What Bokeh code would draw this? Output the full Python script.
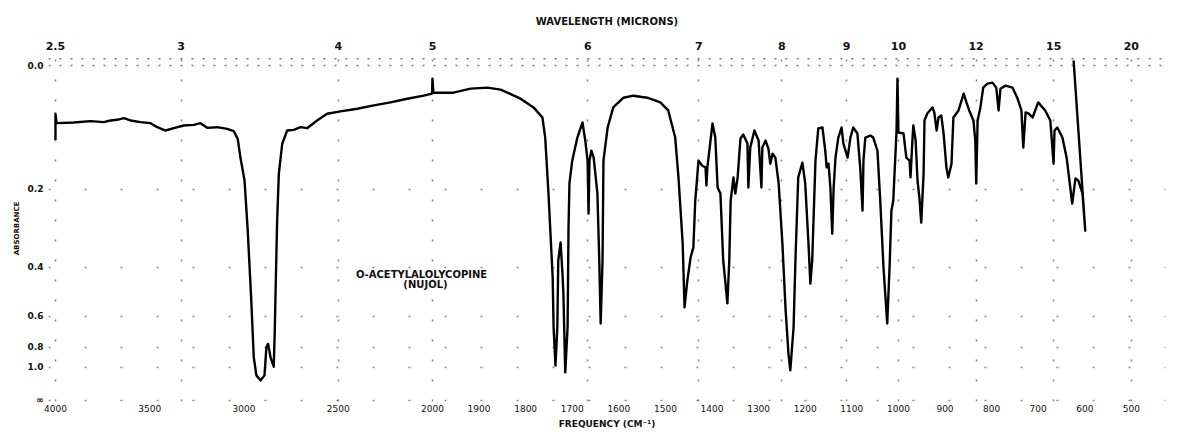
import numpy as np
from bokeh.plotting import figure
from bokeh.models import Range1d, LinearAxis, FixedTicker, Span, Label, Grid
from bokeh.embed import file_html
from bokeh.resources import INLINE

# ---------------- data ----------------
# IR trace of O-acetylalolycopine (Nujol mull): wavenumber (cm-1) vs transmittance (%)
# (includes the recorder pen marks at the start, at 2000 / 1000 cm-1 and the pen return at the end)
wavenumber = [
    4000, 4000, 3995, 3991, 3903, 3814, 3744, 3708, 3673, 3638, 3602, 3549, 3496, 3460,
    3416, 3372, 3319, 3266, 3231, 3195, 3142, 3089, 3054, 3033, 3019, 2997, 2980, 2962,
    2948, 2934, 2912, 2891, 2881, 2872, 2859, 2842, 2837, 2831, 2824, 2815, 2797, 2771,
    2736, 2700, 2665, 2612, 2559, 2488, 2399, 2311, 2223, 2134, 2046, 2002, 2000, 1998,
    1955, 1918, 1882, 1854, 1839, 1811, 1783, 1764, 1758, 1751, 1742, 1740, 1736, 1732,
    1730, 1725, 1721, 1719, 1715, 1710, 1708, 1706, 1700, 1689, 1678, 1672, 1667, 1665,
    1663, 1659, 1654, 1646, 1642, 1639, 1635, 1633, 1624, 1612, 1590, 1569, 1539, 1511,
    1494, 1479, 1472, 1463, 1459, 1453, 1446, 1440, 1436, 1429, 1421, 1414, 1412, 1410,
    1399, 1393, 1388, 1382, 1376, 1367, 1363, 1360, 1354, 1350, 1345, 1339, 1333, 1324,
    1322, 1318, 1309, 1300, 1294, 1292, 1285, 1279, 1275, 1270, 1264, 1257, 1249, 1242,
    1236, 1232, 1225, 1221, 1215, 1206, 1200, 1193, 1189, 1185, 1178, 1172, 1163, 1157,
    1154, 1150, 1146, 1142, 1139, 1135, 1129, 1122, 1118, 1109, 1103, 1097, 1088, 1082,
    1077, 1075, 1071, 1060, 1054, 1045, 1039, 1032, 1024, 1019, 1015, 1011, 1004, 1002,
    1000, 989, 983, 976, 974, 970, 968, 963, 959, 955, 951, 946, 944, 938,
    927, 923, 918, 914, 908, 903, 897, 893, 886, 882, 871, 860, 854, 848,
    839, 835, 833, 830, 824, 818, 809, 798, 790, 785, 781, 770, 755, 745,
    736, 732, 727, 721, 712, 700, 685, 674, 667, 665, 659, 648, 639, 633,
    627, 620, 614, 605, 599, 624,
]
transmittance = [
    77.8, 85.6, 83.0, 82.8, 83.0, 83.4, 83.1, 83.6, 83.8, 84.3, 83.6, 83.1, 82.8, 81.6,
    80.6, 81.3, 82.1, 82.3, 82.8, 81.4, 81.6, 81.1, 80.4, 78.1, 72.6, 65.7, 50.7, 30.8,
    12.9, 7.5, 6.0, 7.5, 15.9, 16.9, 12.9, 10.1, 19.9, 35.8, 53.7, 67.7, 76.6, 80.6,
    80.8, 81.6, 81.3, 83.6, 85.6, 86.3, 87.1, 88.1, 89.0, 90.1, 91.0, 91.6, 96.1, 91.9,
    91.9, 93.1, 93.4, 92.8, 91.9, 90.1, 87.5, 84.5, 78.5, 61.8, 36.7, 21.8, 10.4, 21.8,
    41.8, 47.2, 37.9, 31.9, 8.4, 21.8, 51.6, 64.8, 71.6, 78.5, 83.0, 77.6, 71.6, 55.8,
    71.6, 74.6, 72.5, 61.8, 41.8, 23.0, 41.8, 71.6, 81.5, 87.5, 90.4, 91.0, 90.4, 89.0,
    86.6, 78.5, 66.6, 46.9, 27.8, 35.8, 42.7, 45.7, 59.7, 71.6, 70.1, 69.6, 64.2, 69.6,
    82.7, 78.5, 63.6, 61.8, 41.8, 29.0, 41.8, 59.7, 66.6, 61.8, 66.6, 78.2, 79.4, 76.7,
    63.6, 75.5, 80.6, 77.6, 63.6, 75.5, 77.6, 75.2, 70.7, 73.7, 72.5, 64.8, 46.9, 26.9,
    14.0, 9.0, 21.8, 41.8, 66.6, 71.0, 64.8, 46.9, 34.9, 41.8, 71.6, 81.2, 81.5, 74.6,
    69.6, 70.7, 63.6, 49.8, 63.6, 72.5, 78.5, 81.5, 76.7, 72.5, 78.5, 81.5, 79.7, 69.6,
    56.7, 71.6, 78.5, 79.1, 78.5, 74.6, 59.7, 39.7, 23.0, 39.7, 56.7, 59.7, 80.6, 96.1,
    80.0, 79.7, 72.5, 71.6, 66.6, 77.6, 82.1, 77.6, 65.7, 60.6, 53.1, 67.7, 83.6, 85.7,
    87.5, 86.0, 80.6, 84.5, 85.1, 79.7, 69.6, 66.6, 70.7, 84.5, 86.6, 91.6, 89.0, 86.6,
    83.6, 77.6, 64.8, 83.6, 87.5, 93.4, 94.6, 94.9, 93.4, 86.6, 93.1, 94.0, 93.4, 90.4,
    86.6, 75.5, 86.0, 85.7, 84.5, 89.0, 86.6, 83.6, 70.7, 80.6, 81.5, 78.5, 72.5, 65.7,
    58.8, 66.3, 65.7, 61.8, 50.7, 101.5,
]

wavelength_ticks = [2.5, 3, 4, 5, 6, 7, 8, 9, 10, 12, 15, 20]          # microns (top)
wavelength_labels = ["2.5", "3", "4", "5", "6", "7", "8", "9", "10", "12", "15", "20"]
frequency_ticks = [4000, 3500, 3000, 2500, 2000, 1900, 1800, 1700, 1600, 1500, 1400,
                   1300, 1200, 1100, 1000, 900, 800, 700, 600, 500]   # cm-1 (bottom)
absorbance_ticks = [0.0, 0.2, 0.4, 0.6, 0.8, 1.0, np.inf]
absorbance_labels = ["0.0", "0.2", "0.4", "0.6", "0.8", "1.0", "\u221e"]

compound = "O-ACETYLALOLYCOPINE"
medium = "(NUJOL)"

# ---------------- chart scale ----------------
# The chart paper has a scale change at 2000 cm-1: below it the abscissa is expanded.
SCALE_BREAK = 2000.0
EXPANSION = 2.472


def chart_u(wn):
    wn = np.asarray(wn, dtype=float)
    return np.where(wn >= SCALE_BREAK, 4000.0 - wn,
                    (4000.0 - SCALE_BREAK) + (SCALE_BREAK - wn) * EXPANSION)


def t_from_absorbance(a):
    return 100.0 * 10.0 ** (-np.asarray(a, dtype=float))


FONT = "DejaVu Sans"

p = figure(width=1180, height=438, output_backend="svg", toolbar_location=None,
           x_range=Range1d(-37, 5889), y_range=Range1d(-0.3, 103.0),
           min_border_left=48, min_border_right=15, min_border_top=55, min_border_bottom=37,
           x_axis_location=None, y_axis_location=None)
p.outline_line_color = None
p.background_fill_color = "white"
p.border_fill_color = "white"
p.grid.visible = False

# ---------------- axes ----------------
top_pos = [float(v) for v in chart_u(1e4 / np.array(wavelength_ticks, dtype=float))]
bot_pos = [float(v) for v in chart_u(frequency_ticks)]
left_pos = [float(v) for v in t_from_absorbance(absorbance_ticks)]


def style_axis(ax, size, bold=True):
    ax.axis_line_color = None
    ax.major_tick_line_color = None
    ax.minor_tick_line_color = None
    ax.major_tick_out = 0
    ax.major_tick_in = 0
    ax.minor_tick_out = 0
    ax.major_label_text_font = FONT
    ax.major_label_text_font_size = size
    ax.major_label_text_font_style = "bold" if bold else "normal"
    ax.major_label_text_color = "#111111"
    ax.axis_label_text_font = FONT
    ax.axis_label_text_font_style = "bold"
    ax.axis_label_text_color = "#111111"


top_axis = LinearAxis(ticker=FixedTicker(ticks=top_pos),
                      major_label_overrides={k: v for k, v in zip(top_pos, wavelength_labels)},
                      axis_label="WAVELENGTH (MICRONS)")
style_axis(top_axis, "11px")
top_axis.axis_label_text_font_size = "10px"
top_axis.major_label_standoff = 6
top_axis.axis_label_standoff = 12
p.add_layout(top_axis, "above")

bottom_axis = LinearAxis(ticker=FixedTicker(ticks=bot_pos),
                         major_label_overrides={k: str(v) for k, v in zip(bot_pos, frequency_ticks)},
                         axis_label="FREQUENCY (CM\u207b\u00b9)")
style_axis(bottom_axis, "9px", bold=False)
bottom_axis.axis_label_text_font_size = "9px"
bottom_axis.major_label_standoff = 3
bottom_axis.axis_label_standoff = 4
p.add_layout(bottom_axis, "below")

left_axis = LinearAxis(ticker=FixedTicker(ticks=left_pos),
                       major_label_overrides={k: v for k, v in zip(left_pos, absorbance_labels)},
                       axis_label="ABSORBANCE")
style_axis(left_axis, "9px")
left_axis.axis_label_text_font_size = "7px"
left_axis.major_label_standoff = 5
left_axis.axis_label_standoff = 4
p.add_layout(left_axis, "left")

# ---------------- dotted chart-paper grid ----------------
vgrid = Grid(dimension=0, ticker=FixedTicker(ticks=top_pos),
             grid_line_color="#222222", grid_line_alpha=0.55,
             grid_line_dash="2 18", grid_line_width=1.5)
hgrid = Grid(dimension=1, ticker=FixedTicker(ticks=left_pos[1:]),
             grid_line_color="#222222", grid_line_alpha=0.55,
             grid_line_dash="2 34", grid_line_width=1.5)
p.add_layout(vgrid)
p.add_layout(hgrid)
for level in (100.0, 102.0):
    p.add_layout(Span(location=level, dimension="width", line_color="#222222",
                      line_alpha=0.6, line_dash="2 9", line_width=1.5))

# ---------------- spectrum ----------------
p.line(chart_u(wavenumber), transmittance, line_color="black", line_width=2.4,
       line_join="round")

# ---------------- sample annotation ----------------
for txt, (u, t) in zip([compound, medium], [(1942, 37.6), (1963, 34.6)]):
    p.add_layout(Label(x=u, y=t, text=txt, text_align="center", text_baseline="middle",
                       text_font=FONT, text_font_size="10px", text_font_style="bold",
                       text_color="#111111"))

open("out.html", "w").write(file_html(p, INLINE))
